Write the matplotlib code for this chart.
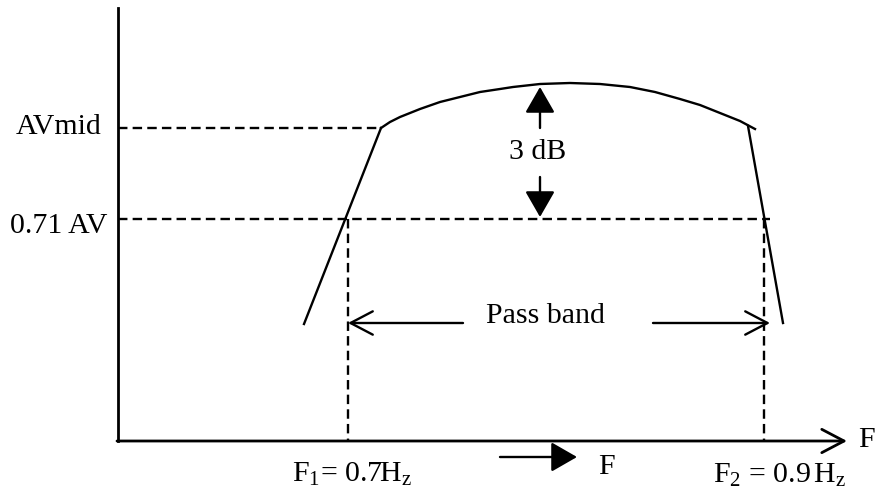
import matplotlib
matplotlib.use("Agg")
import matplotlib.pyplot as plt

plt.rcParams['font.family'] = ['Liberation Serif', 'DejaVu Serif']
plt.rcParams['mathtext.fontset'] = 'custom'
plt.rcParams['mathtext.rm'] = 'Liberation Serif'
plt.rcParams['mathtext.it'] = 'Liberation Serif:italic'

# diagram coordinates (pixel-like units, y grows downwards)
origin = (118, 441)
y_axis_top = 8
x_axis_end = 847
av_mid = 128
av_071 = 219
f1 = 348
f2 = 764

# response curve
left_skirt_x = [304, 381]
left_skirt_y = [324, 128]
top_x = [381, 390, 400, 410, 420, 440, 460, 480, 500, 513, 540, 570, 600, 630, 655, 680, 700, 720, 740, 755]
top_y = [128, 122, 117, 113, 109, 102, 97, 92, 89, 87, 84, 83, 84, 87, 92, 99, 105, 113, 121, 129]
right_skirt_x = [748, 783]
right_skirt_y = [126, 323]

pass_y = 323
pass_gap = [463, 653]
db_x = 540
db_up = [128, 87]
db_down = [177, 217]
f_arrow = [500, 577, 457]

labels_left = ['AVmid', '0.71 AV']
fs = 21.5

fig = plt.figure(figsize=(8.77, 4.88), dpi=100)
ax = fig.add_axes([0, 0, 1, 1])
ax.set_xlim(0, 877)
ax.set_ylim(488, 0)
ax.axis('off')

lw = 1.7
dash = (0, (4, 2.2))

open_head = '->,head_length=0.8,head_width=0.42'
solid_head = '-|>,head_length=0.8,head_width=0.46'

# axes
ax.plot([origin[0], origin[0]], [y_axis_top, origin[1]], color='k', lw=2)
ax.annotate('', xy=(x_axis_end, origin[1]), xytext=(origin[0] - 1, origin[1]),
            arrowprops=dict(arrowstyle=open_head, lw=2, color='k',
                            shrinkA=0, shrinkB=0, mutation_scale=20))

# dashed guides
ax.plot([origin[0], left_skirt_x[1]], [av_mid, av_mid], color='k', lw=lw, ls=dash)
ax.plot([origin[0], 770], [av_071, av_071], color='k', lw=lw, ls=dash)
ax.plot([f1, f1], [av_071, origin[1]], color='k', lw=lw, ls=dash)
ax.plot([f2, f2], [av_071, origin[1]], color='k', lw=lw, ls=dash)

# response
ax.plot(left_skirt_x, left_skirt_y, color='k', lw=lw)
ax.plot(top_x, top_y, color='k', lw=lw)
ax.plot(right_skirt_x, right_skirt_y, color='k', lw=lw)

# 3 dB arrows
for ys in (db_up, db_down):
    ax.annotate('', xy=(db_x, ys[1]), xytext=(db_x, ys[0]),
                arrowprops=dict(arrowstyle=solid_head, lw=lw, color='k',
                                shrinkA=0, shrinkB=0, mutation_scale=20))
ax.text(db_x - 2, 159, '3 dB', fontsize=fs, ha='center', va='baseline')

# pass band arrows
ax.annotate('', xy=(f1, pass_y), xytext=(pass_gap[0], pass_y),
            arrowprops=dict(arrowstyle=open_head, lw=lw, color='k',
                            shrinkA=0, shrinkB=0, mutation_scale=20))
ax.annotate('', xy=(770, pass_y), xytext=(pass_gap[1], pass_y),
            arrowprops=dict(arrowstyle=open_head, lw=lw, color='k',
                            shrinkA=0, shrinkB=0, mutation_scale=20))
ax.text(545, pass_y, 'Pass band', fontsize=fs, ha='center', va='baseline')

# F arrow under axis
ax.annotate('', xy=(f_arrow[1], f_arrow[2]), xytext=(f_arrow[0], f_arrow[2]),
            arrowprops=dict(arrowstyle=solid_head, lw=lw, color='k',
                            shrinkA=0, shrinkB=0, mutation_scale=20))
ax.text(598, 474, 'F', fontsize=fs, ha='left', va='baseline')

# labels
ax.text(101, 134, labels_left[0], fontsize=fs, ha='right', va='baseline')
ax.text(108, 233, labels_left[1], fontsize=fs, ha='right', va='baseline')
ax.text(858, 447, 'F', fontsize=fs, ha='left', va='baseline')
ax.text(292, 482, r'F$_1$= 0.7H$_\mathrm{z}$', fontsize=fs, ha='left', va='baseline')
ax.text(713, 483, r'F$_2$ = 0.9$\,$H$_\mathrm{z}$', fontsize=fs, ha='left', va='baseline')

fig.savefig('out.png', dpi=100)
